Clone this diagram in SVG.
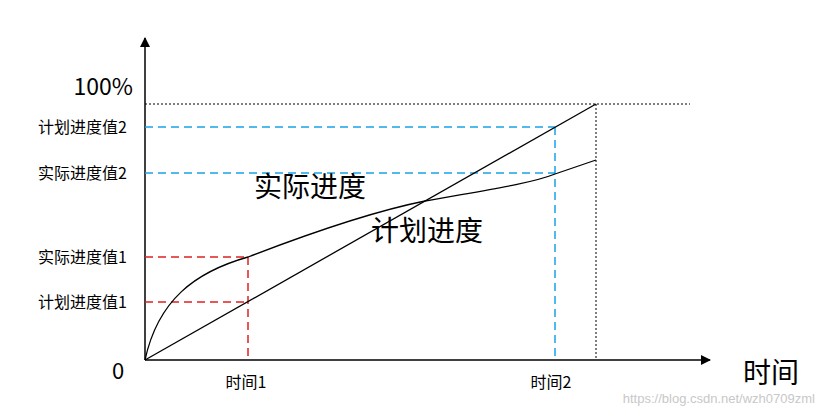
<svg xmlns="http://www.w3.org/2000/svg" width="823" height="413" viewBox="0 0 823 413">
<style>
.t{font-family:"Noto Sans CJK SC","Liberation Sans",sans-serif;fill:#000}
.ax{stroke:#000;stroke-width:1.5;fill:none}
.dot{stroke:#000;stroke-width:1;stroke-dasharray:2,2;fill:none}
.bl{stroke:#1aa3e8;stroke-width:1.5;stroke-dasharray:8,5;fill:none}
.rd{stroke:#e02020;stroke-width:1.5;stroke-dasharray:8,5;fill:none}
</style>
<defs><marker id="a" markerWidth="10" markerHeight="10" refX="9" refY="5" orient="auto" markerUnits="userSpaceOnUse"><path d="M0,0 L10,5 L0,10 Z" fill="#000"/></marker></defs>
<rect width="823" height="413" fill="#fff"/>
<g id="connectors">
<line class="ax" x1="145" y1="360" x2="145" y2="38" marker-end="url(#a)"/>
<line class="ax" x1="145" y1="360" x2="710" y2="360" marker-end="url(#a)"/>
<line class="dot" x1="145" y1="104" x2="690" y2="104"/>
<line class="dot" x1="596" y1="104" x2="596" y2="360"/>
<path class="bl" d="M145,127 H555 M145,173 H555 M555,127 V360"/>
<path class="rd" d="M145,257 H248 M145,302 H248 M248,257 V360"/>
<line x1="145" y1="360" x2="596" y2="104" stroke="#000" stroke-width="1.3"/>
<path d="M145,360 C158,300 195,272 248,257 C300,237 370,212 425,201 C480,191 530,184 555,174 L596,160" stroke="#000" stroke-width="1.3" fill="none"/>
</g>
<g id="labels">
<text class="t" x="133" y="95" font-size="23" text-anchor="end" font-family="Liberation Sans,sans-serif">100%</text>
<text class="t" x="127" y="133" font-size="16" text-anchor="end">计划进度值2</text>
<text class="t" x="127" y="179" font-size="16" text-anchor="end">实际进度值2</text>
<text class="t" x="127" y="263" font-size="16" text-anchor="end">实际进度值1</text>
<text class="t" x="127" y="308" font-size="16" text-anchor="end">计划进度值1</text>
<text class="t" x="118" y="379" font-size="22" text-anchor="middle" font-family="Liberation Sans,sans-serif">0</text>
<text class="t" x="246" y="388" font-size="16" text-anchor="middle">时间1</text>
<text class="t" x="551" y="388" font-size="16" text-anchor="middle">时间2</text>
<text class="t" x="771" y="383" font-size="28" text-anchor="middle">时间</text>
<text class="t" x="310" y="197" font-size="28" text-anchor="middle">实际进度</text>
<text class="t" x="427" y="241" font-size="28" text-anchor="middle">计划进度</text>
<text x="815" y="403" font-size="13" text-anchor="end" font-family="Liberation Sans,sans-serif" fill="#c8c8c8">https://blog.csdn.net/wzh0709zml</text>
</g>
</svg>
